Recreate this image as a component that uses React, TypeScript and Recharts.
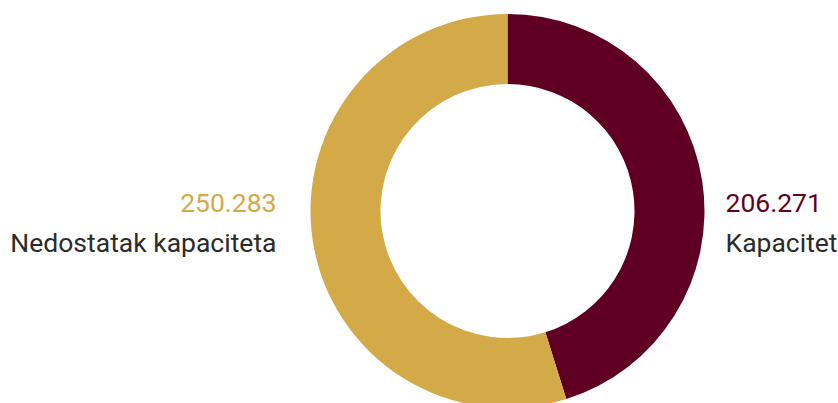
import React from "react";
import { PieChart, Pie, Cell } from "recharts";

const names = ["Kapacitet", "Nedostatak kapaciteta"];
const values = [206.271, 250.283];
const valueLabels = ["206.271", "250.283"];
const colors = ["#5f0022", "#d4a947"];

const data = names.map((n, i) => ({ name: n, value: values[i], label: valueLabels[i], color: colors[i] }));

const RADIAN = Math.PI / 180;

const renderLabel = (props: any) => {
  const { cx, cy, midAngle, outerRadius, index } = props;
  const right = Math.cos(-midAngle * RADIAN) >= 0;
  const x = right ? cx + outerRadius + 21 : cx - outerRadius - 34;
  const anchor = right ? "start" : "end";
  const d = data[index];
  return (
    <g>
      <text x={x} y={cy + 1} textAnchor={anchor} fill={d.color} fontSize={26.5} fontFamily="Roboto">
        {d.label}
      </text>
      <text x={x} y={cy + 41} textAnchor={anchor} fill="#2b2b2b" fontSize={26.5} fontFamily="Roboto">
        {d.name}
      </text>
    </g>
  );
};

export default function App() {
  return (
    <div style={{ position: "absolute", left: 0, top: 0, width: 838, height: 403, background: "#fff" }}>
      <PieChart width={838} height={403} margin={{ top: 0, right: 0, bottom: 0, left: 0 }}>
        <Pie
          data={data}
          dataKey="value"
          cx={507.5}
          cy={211}
          outerRadius={197}
          innerRadius={127}
          startAngle={90}
          endAngle={-270}
          stroke="none"
          label={renderLabel}
          labelLine={false}
          isAnimationActive={false}
        >
          {data.map((d, i) => (
            <Cell key={i} fill={d.color} />
          ))}
        </Pie>
      </PieChart>
    </div>
  );
}
